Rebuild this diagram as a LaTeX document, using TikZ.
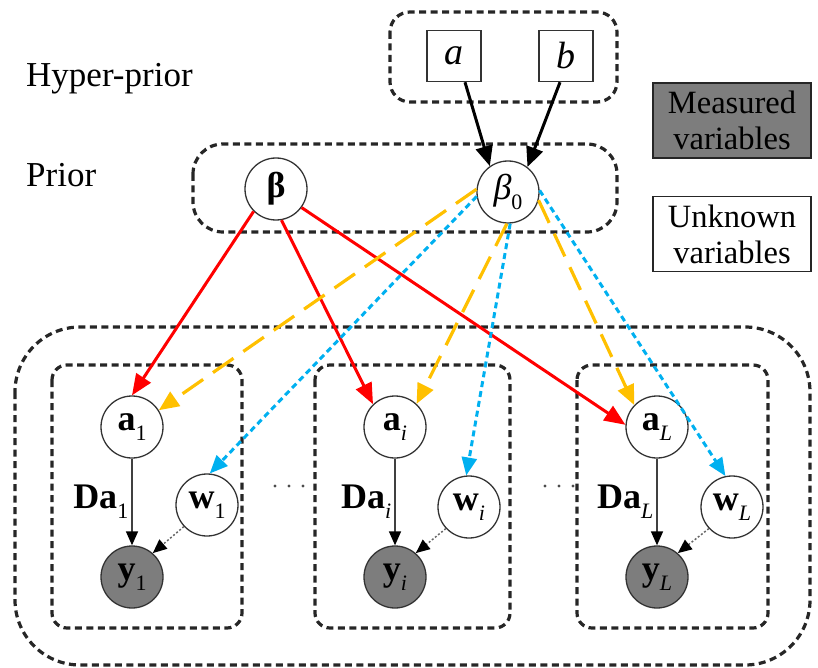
\documentclass[tikz,border=0pt]{standalone}
\usepackage{fontspec}
\setmainfont{Liberation Serif}
\newfontfamily\tms{Liberation Serif}
\usetikzlibrary{arrows.meta}

\definecolor{redc}{RGB}{255,0,0}
\definecolor{orc}{RGB}{255,192,0}
\definecolor{cyc}{RGB}{0,176,240}
\definecolor{obsgray}{RGB}{125,125,125}

\newcommand\lblsize{\fontsize{36}{40}\selectfont}
\newcommand\txtsize{\fontsize{35}{38}\selectfont}
\newcommand\legsize{\fontsize{32.5}{36}\selectfont}
% subscript for variable labels
\newcommand\vsub[1]{\raisebox{-0.28em}{\fontsize{22}{22}\selectfont #1}}

\begin{document}
\begin{tikzpicture}[x=1pt,y=-1pt,
  var/.style={circle, draw=black!80, line width=1.3pt, minimum size=62pt,
    inner sep=0pt, fill=white, font=\lblsize\tms},
  obs/.style={var, fill=obsgray},
  hyp/.style={draw=black!80, line width=1.5pt, minimum width=54pt,
    minimum height=51pt, inner sep=0pt, fill=white, font=\fontsize{38}{40}\selectfont\tms\itshape},
  legend/.style={draw=black!85, line width=1.5pt, minimum width=158pt,
    minimum height=75pt, inner sep=0pt, align=center, font=\legsize},
  plate/.style={draw=black!85, line width=3.2pt, dash pattern=on 7pt off 4.5pt},
  hyparr/.style={draw=black, line width=3pt, -{Triangle[length=20pt,width=17pt]}},
  redarr/.style={draw=redc, line width=3pt, -{Triangle[length=21pt,width=17pt]}},
  orarr/.style={draw=orc, line width=3.2pt, dash pattern=on 25pt off 12pt,
    -{Triangle[length=20pt,width=17pt]}},
  cyarr/.style={draw=cyc, line width=3pt, dash pattern=on 6pt off 4pt,
    -{Triangle[length=18pt,width=15pt]}},
  inarr/.style={draw=black!75, line width=1.5pt, -{Triangle[length=14pt,width=12pt,black]}},
  noisearr/.style={draw=black!60, line width=1.5pt, dash pattern=on 2pt off 2pt,
    -{Triangle[length=14pt,width=12pt,black]}},
  dalbl/.style={font=\lblsize\tms, inner sep=3pt}
]
\useasboundingbox (0,0) rectangle (818,668);

% plates
\draw[plate, rounded corners=20pt] (390,12) rectangle (617,102);
\draw[plate, rounded corners=30pt] (193,144) rectangle (617,232);
\draw[plate, rounded corners=65pt] (15,327) rectangle (810,665);
\draw[plate, rounded corners=15pt] (52,365) rectangle (242,628);
\draw[plate, rounded corners=15pt] (315,365) rectangle (510,628);
\draw[plate, rounded corners=15pt] (577,365) rectangle (768,628);

% level captions
\node[anchor=base west, inner sep=0pt, font=\txtsize] (hyper) at (26,87) {Hyper-prior};
\node[anchor=base west, inner sep=0pt, font=\txtsize] (prior) at (26,187) {Prior};

% legend
\node[legend, fill=obsgray] (meas) at (732,120.5) {Measured\\variables};
\node[legend, fill=white] (unk) at (732,234) {Unknown\\variables};

% hyper-parameters and priors
\node[hyp] (a) at (454,56) {a};
\node[hyp] (b) at (566,56) {b};
\node[var] (beta) at (276,189) {\textbf{β}};
\node[var] (beta0) at (508,192) {\textit{β}\vsub{0}};

% per-group variables
\node[var] (a1) at (132,427) {\textbf{a}\vsub{1}};
\node[var] (w1) at (207,505) {\textbf{w}\vsub{1}};
\node[obs] (y1) at (132,577) {\textbf{y}\vsub{1}};

\node[var] (ai) at (395,427) {\textbf{a}\vsub{\textit{i}}};
\node[var] (wi) at (469,507) {\textbf{w}\vsub{\textit{i}}};
\node[obs] (yi) at (395,577) {\textbf{y}\vsub{\textit{i}}};

\node[var] (aL) at (657,427) {\textbf{a}\vsub{\textit{L}}};
\node[var] (wL) at (732,507) {\textbf{w}\vsub{\textit{L}}};
\node[obs] (yL) at (657,577) {\textbf{y}\vsub{\textit{L}}};

% ellipsis between groups
\foreach \x in {275,289,303} \fill[black!70] (\x,486) circle (1.6pt);
\foreach \x in {545,559,573} \fill[black!70] (\x,486) circle (1.6pt);

% hyper-prior to prior
\draw[hyparr] ([xshift=11pt]a.south) -- (beta0.125);
\draw[hyparr] ([xshift=-6pt]b.south) -- (beta0.52);

% beta to coefficients
\draw[redarr] (beta.225) -- (a1.north);
\draw[redarr] (beta.-80) -- (ai.134);
\draw[redarr] (beta.-36) -- (aL.176);

% beta0 to coefficients
\draw[orarr] (beta0.175) -- (a1.32);
\draw[orarr] (beta0.-92) -- (ai.47);
\draw[orarr] (beta0.-15) -- (aL.136);

% beta0 to noise
\draw[cyarr] (beta0.188) -- (w1.85);
\draw[cyarr] (beta0.-86) -- (wi.95);
\draw[cyarr] (beta0.3) -- (wL.102);

% measurement model
\draw[inarr] (a1) -- node[dalbl, left] (da1) {\textbf{Da}\vsub{1}} (y1);
\draw[inarr] (ai) -- node[dalbl, left] (dai) {\textbf{Da}\vsub{\textit{i}}} (yi);
\draw[inarr] (aL) -- node[dalbl, left] (daL) {\textbf{Da}\vsub{\textit{L}}} (yL);
\draw[noisearr] (w1.223) -- (y1.49);
\draw[noisearr] (wi.223) -- (yi.49);
\draw[noisearr] (wL.223) -- (yL.49);
\end{tikzpicture}
\end{document}
